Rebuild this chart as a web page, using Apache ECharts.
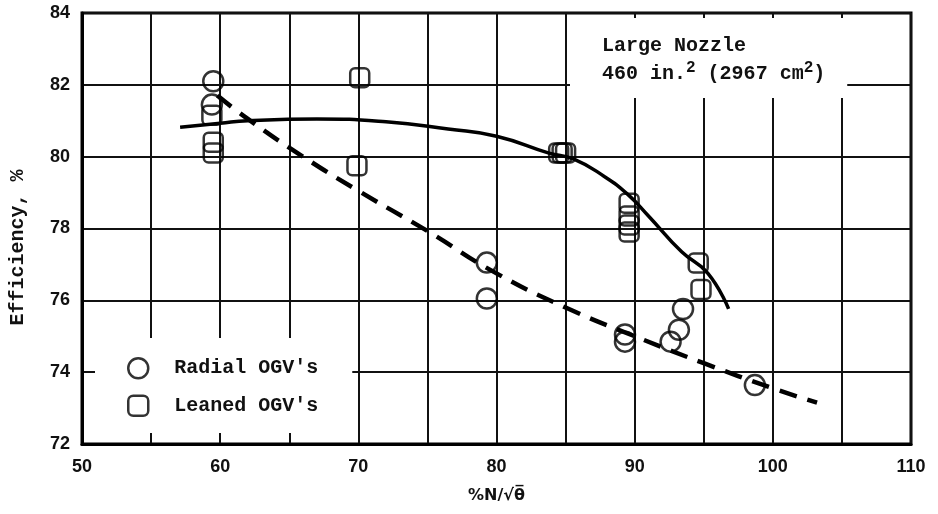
<!DOCTYPE html>
<html>
<head>
<meta charset="utf-8">
<script src="https://cdn.jsdelivr.net/npm/echarts@6/dist/echarts.min.js"></script>
<style>
  html, body { margin: 0; padding: 0; background: #fff; }
  #chart { width: 938px; height: 514px; }
</style>
</head>
<body>
<div id="chart"></div>
<script>
// Efficiency vs corrected speed, large nozzle
const xTickLabels = [50, 60, 70, 80, 90, 100, 110];
const yTickLabels = [72, 74, 76, 78, 80, 82, 84];

// Measured points [%N/sqrt(theta), efficiency %]
const radialOGV = [
  [59.5, 82.1], [59.4, 81.45], [79.3, 77.05], [79.3, 76.05],
  [89.3, 75.05], [89.3, 74.85], [92.6, 74.85], [93.2, 75.18],
  [93.5, 75.76], [98.7, 73.64]
];
const leanedOGV = [
  [59.4, 81.15], [59.5, 80.4], [59.5, 80.1], [70.1, 82.2], [69.9, 79.75],
  [84.5, 80.1], [84.75, 80.1], [85.0, 80.1],
  [89.6, 78.7], [89.6, 78.35], [89.6, 78.1], [89.6, 77.9],
  [94.6, 77.04], [94.8, 76.3]
];

// Faired curves through each set
const leanedFair = [
  [57.1, 80.82], [60, 80.93], [62, 81.0], [67, 81.05], [72, 80.97],
  [76.5, 80.77], [80, 80.57], [83.8, 80.1], [85.6, 79.93], [87.8, 79.45],
  [89.5, 78.95], [91, 78.35], [93.4, 77.35], [95.3, 76.75], [96.8, 75.76]
];
const radialFair = [
  [59.8, 81.7], [62, 81.05], [66, 80.0], [70, 79.05], [75, 77.93],
  [80, 76.75], [85, 75.8], [90, 75.0], [95, 74.25], [100, 73.55], [103.2, 73.15]
];

const monoBold = { fontFamily: 'Liberation Mono', fontWeight: 'bold', color: '#111' };

const chart = echarts.init(document.getElementById('chart'), null, { renderer: 'canvas' });

chart.setOption({
  animation: false,
  backgroundColor: '#fff',
  grid: {
    left: 82, right: 27, top: 13, bottom: 70,
    show: true, borderColor: '#000', borderWidth: 3, backgroundColor: 'transparent'
  },
  title: {
    left: 570, top: 14,
    padding: [18, 22, 14, 32],
    backgroundColor: '#fff',
    text: '{a|Large Nozzle}\n{a|460 in.}{s|2}{a| (2967 cm}{s|2}{a|)}',
    textStyle: {
      rich: {
        a: Object.assign({ fontSize: 20, lineHeight: 28 }, monoBold),
        s: Object.assign({ fontSize: 16, lineHeight: 16, verticalAlign: 'top' }, monoBold)
      }
    }
  },
  legend: {
    data: ["Radial OGV's", "Leaned OGV's"],
    orient: 'vertical',
    left: 95, top: 338,
    padding: [19, 34, 16, 32],
    backgroundColor: '#fff',
    itemWidth: 20, itemHeight: 20, itemGap: 15,
    itemStyle: { color: 'rgba(0,0,0,0)', borderColor: '#000', borderWidth: 2.5 },
    textStyle: Object.assign({ fontSize: 20, padding: [0, 0, 0, 21] }, monoBold)
  },
  xAxis: {
    type: 'value', min: 50, max: 110, interval: 5,
    name: '%N/√θ̅', nameLocation: 'middle', nameGap: 44,
    nameTextStyle: { fontFamily: 'DejaVu Sans', fontWeight: 'bold', fontSize: 16, color: '#111' },
    axisLine: { show: true, lineStyle: { color: '#000', width: 3 } },
    axisTick: { show: false },
    splitLine: { show: true, lineStyle: { color: '#111', width: 2 } },
    axisLabel: {
      margin: 14, fontFamily: 'Liberation Sans', fontWeight: 'bold', fontSize: 18, color: '#111',
      formatter: v => xTickLabels.includes(v) ? String(v) : ''
    }
  },
  yAxis: {
    type: 'value', min: 72, max: 84, interval: 2,
    name: 'Efficiency, %', nameLocation: 'middle', nameGap: 54, nameRotate: 90,
    nameTextStyle: Object.assign({ fontSize: 20, padding: [0, 38, 0, 0] }, monoBold),
    axisLine: { show: true, lineStyle: { color: '#000', width: 3 } },
    axisTick: { show: false },
    splitLine: { show: true, lineStyle: { color: '#111', width: 2 } },
    axisLabel: {
      margin: 12, fontFamily: 'Liberation Sans', fontWeight: 'bold', fontSize: 18, color: '#111',
      formatter: v => yTickLabels.includes(v) ? String(v) : ''
    }
  },
  series: [
    {
      name: 'leaned fairing', type: 'line', data: leanedFair, smooth: true,
      showSymbol: false, silent: true, z: 3,
      lineStyle: { color: '#000', width: 3.5 }
    },
    {
      name: 'radial fairing', type: 'line', data: radialFair, smooth: true,
      showSymbol: false, silent: true, z: 3,
      lineStyle: { color: '#000', width: 4.5, type: [18, 11] }
    },
    {
      name: "Radial OGV's", type: 'scatter', data: radialOGV, z: 4,
      symbol: 'circle', symbolSize: 20,
      itemStyle: { color: 'rgba(0,0,0,0)', borderColor: '#000', borderWidth: 2.5 }
    },
    {
      name: "Leaned OGV's", type: 'scatter', data: leanedOGV, z: 4,
      symbol: 'roundRect', symbolSize: 19,
      itemStyle: { color: 'rgba(0,0,0,0)', borderColor: '#000', borderWidth: 2.5 }
    }
  ]
});
</script>
</body>
</html>
